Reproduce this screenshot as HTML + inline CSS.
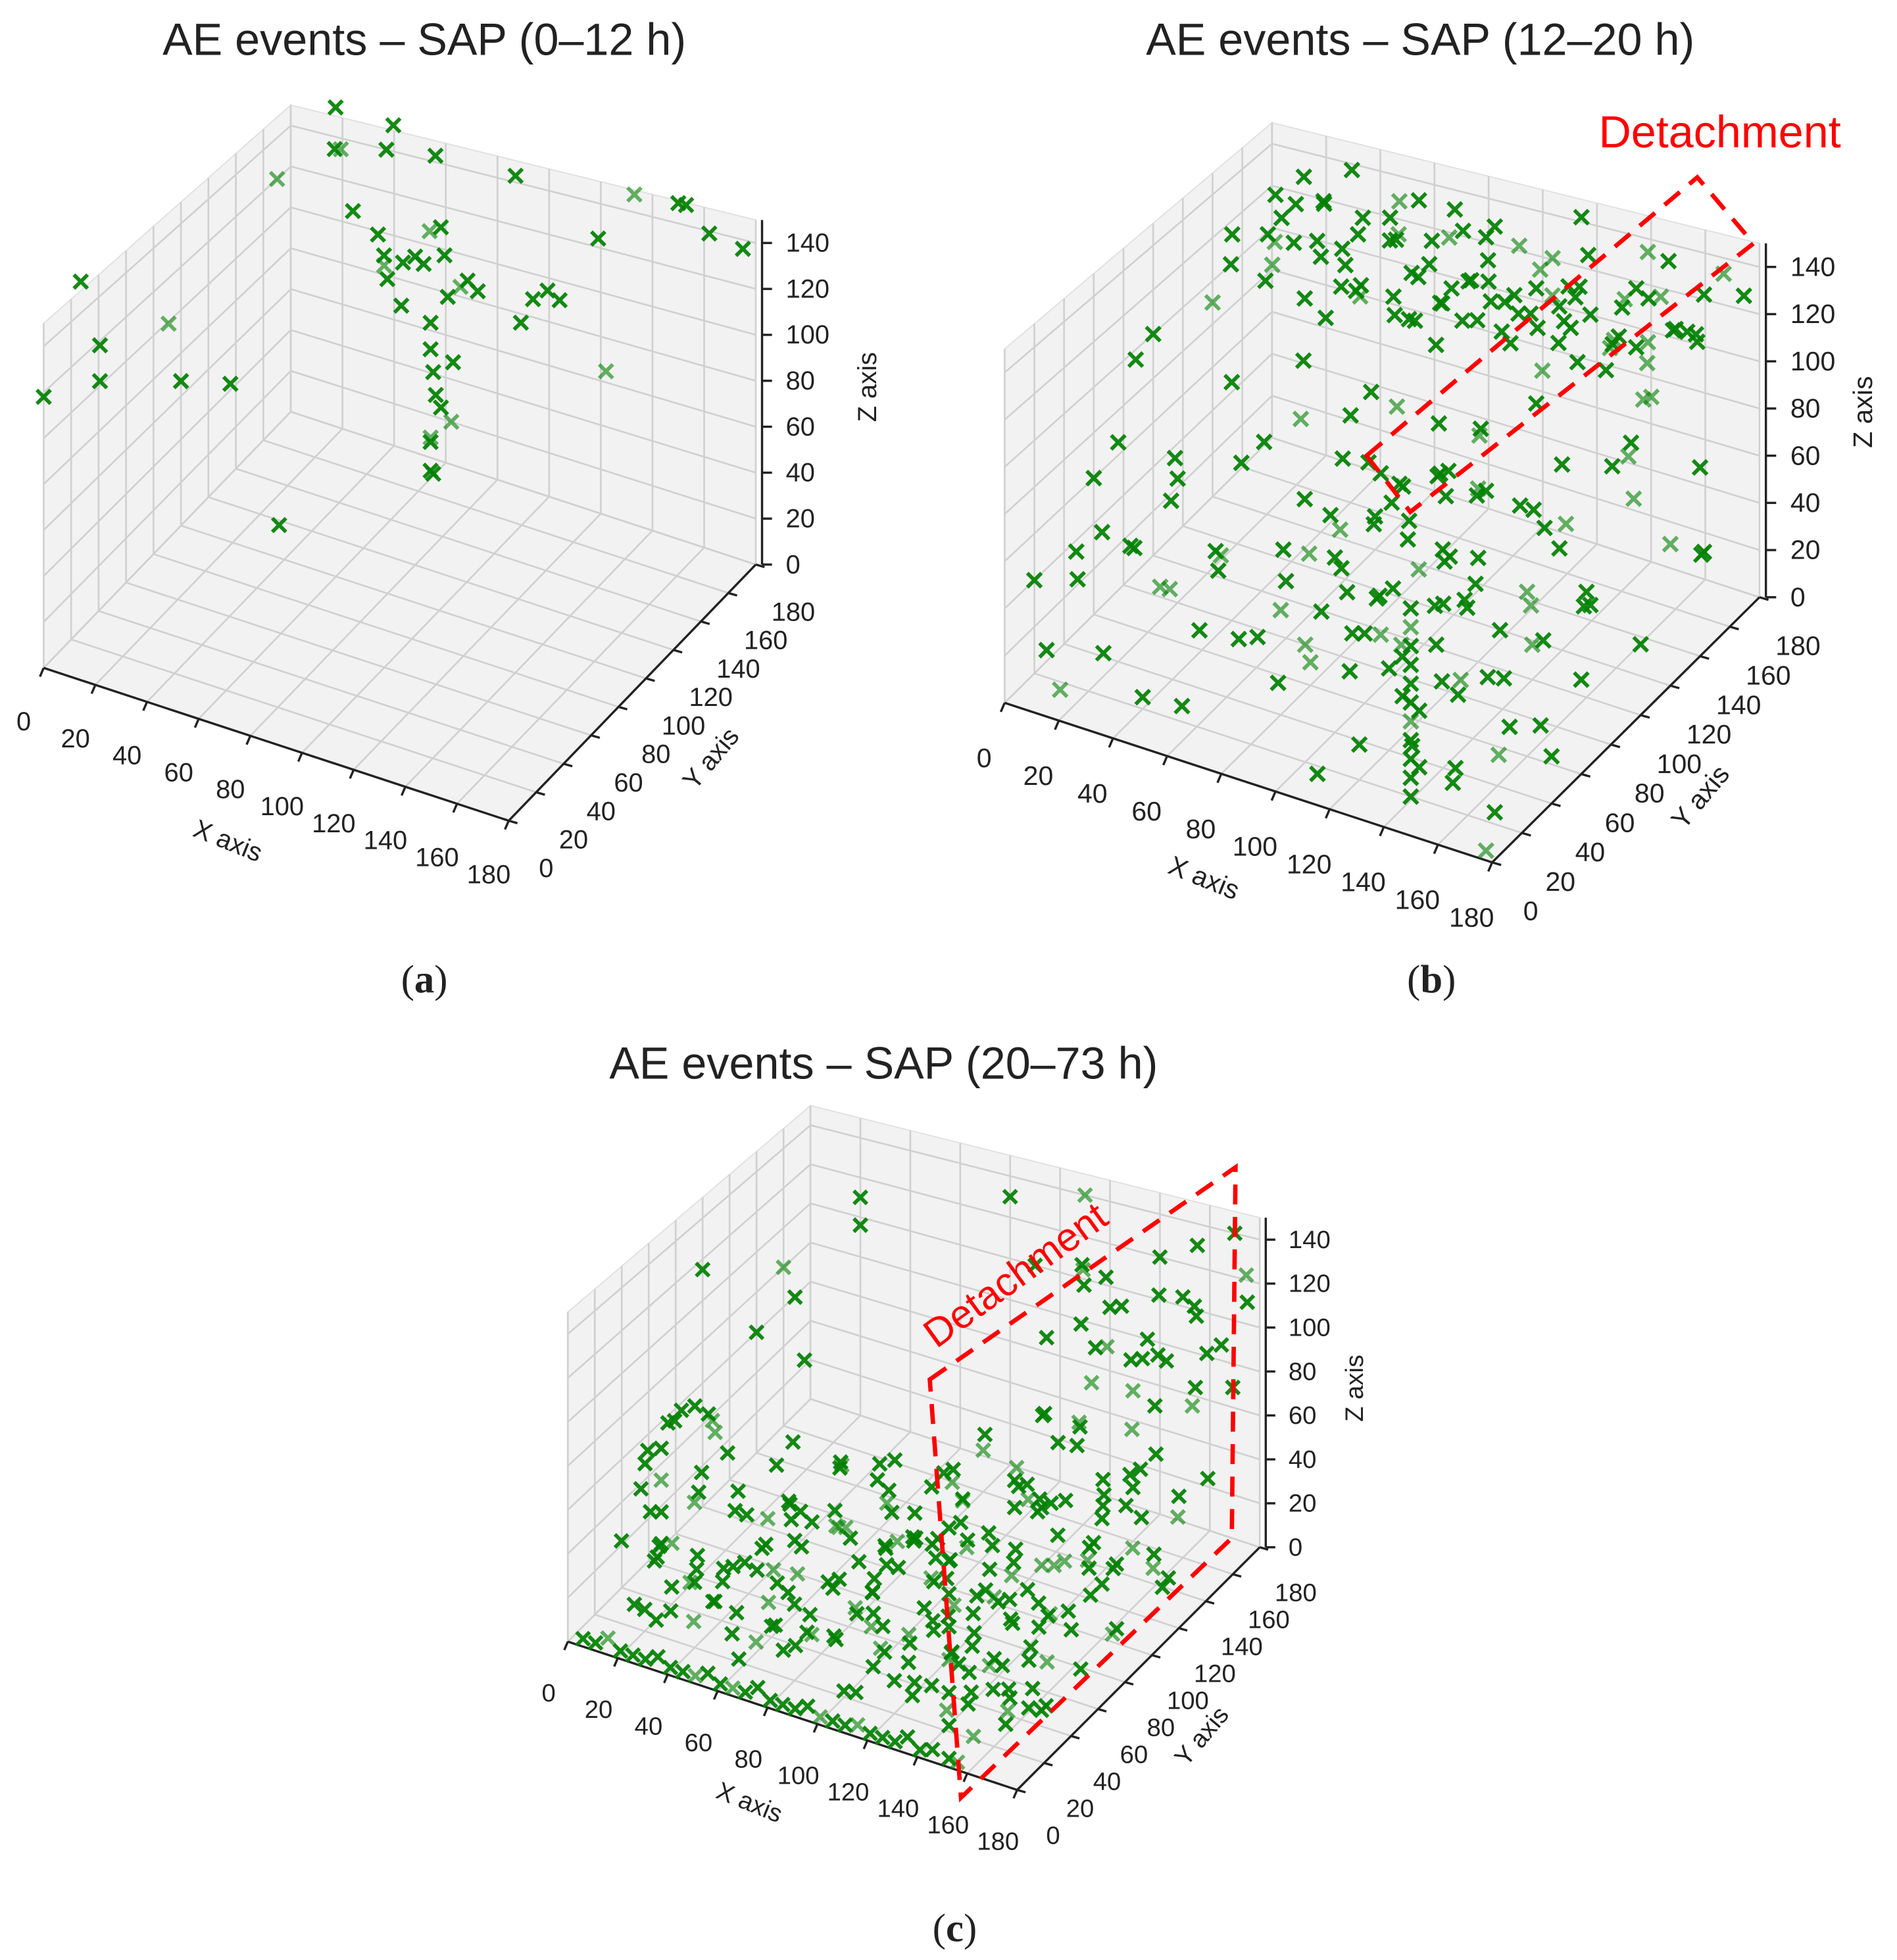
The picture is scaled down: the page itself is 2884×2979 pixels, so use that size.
<!DOCTYPE html>
<html><head><meta charset="utf-8"><style>
html,body{margin:0;padding:0;background:#fff}
svg{display:block}
text{font-family:"Liberation Sans",sans-serif;fill:#222}
</style></head><body>
<svg id="fig" width="2884" height="2979" viewBox="0 0 1520 1570" xmlns="http://www.w3.org/2000/svg">
<rect width="1520" height="1570" fill="#fff"/>
<text x="340" y="44" font-size="36" text-anchor="middle">AE events – SAP (0–12 h)</text>
<text x="1138" y="44" font-size="36" text-anchor="middle">AE events – SAP (12–20 h)</text>
<text x="708" y="864" font-size="36" text-anchor="middle">AE events – SAP (20–73 h)</text>
<text x="340" y="795" font-size="32" text-anchor="middle" style="font-family:'Liberation Serif',serif">(<tspan font-weight="bold">a</tspan>)</text>
<text x="1147" y="795" font-size="32" text-anchor="middle" style="font-family:'Liberation Serif',serif">(<tspan font-weight="bold">b</tspan>)</text>
<text x="765" y="1555" font-size="32" text-anchor="middle" style="font-family:'Liberation Serif',serif">(<tspan font-weight="bold">c</tspan>)</text>
<g id="pa"></g>
<g id="pb"></g>
<g id="pc"></g>
<g>
<polygon points="1095,365 1360,142 1405,195 1130,410" fill="none" stroke="#ff0000" stroke-width="3.5" stroke-dasharray="16,10"/>
<text x="1378" y="118" font-size="36" text-anchor="middle" style="fill:#ff0000">Detachment</text>
</g>
<g>
<polygon points="745,1105 990,935 987,1232 770,1440" fill="none" stroke="#ff0000" stroke-width="3.5" stroke-dasharray="16,10"/>
<text x="820" y="1030" font-size="32" text-anchor="middle" transform="rotate(-36 820 1030)" style="fill:#ff0000">Detachment</text>
</g>
</svg>
<script>
const xTicks=[0,20,40,60,80,100,120,140,160,180];
const yTicks=[0,20,40,60,80,100,120,140,160,180];
const zTicks=[0,20,40,60,80,100,120,140];
const eventsA=[[78,130,130],[70,130,128],[85,132,135],[90,125,122],[75,140,138],[65,128,120],[80,120,140],[95,130,128],[60,135,125],[88,138,118],[72,125,112],[100,128,126],[55,140,130],[82,135,145],[68,120,132],[86,120,112],[86,120,100],[87,120,90],[88,120,80],[86,120,60],[86,120,58],[86,120,45],[87,120,44],[90,120,75],[94,120,70],[0,0,118],[0,41,118],[0,41,102],[0,27,154],[0,91,99],[0,100,67],[0,136,43],[38,100,15],[119,180,124],[133,180,148],[150,180,149],[153,180,149],[162,180,139],[175,180,136],[122,180,65],[87,180,143],[56,180,143],[37,180,140],[17,180,134],[0,170,120],[110,160,110],[105,150,100],[120,150,115],[40,150,130],[30,160,150],[45,170,160],[20,175,158],[115,140,120],[100,110,105]];
const eventsB=[[20,150,130],[30,160,135],[40,140,125],[50,150,140],[60,130,120],[70,160,130],[80,140,135],[90,150,125],[100,130,140],[110,160,130],[120,140,120],[130,150,135],[140,170,125],[150,160,130],[160,150,140],[170,140,135],[25,130,115],[35,170,145],[45,120,120],[55,165,125],[65,145,138],[75,125,128],[85,175,132],[95,135,118],[105,155,142],[115,125,126],[125,165,138],[135,135,128],[145,145,118],[155,125,132],[165,170,130],[30,140,128],[60,150,133],[90,160,138],[120,150,128],[150,140,126],[40,165,120],[70,135,112],[100,145,122],[130,125,114],[160,160,120],[50,125,110],[80,155,115],[110,140,110],[140,155,112],[20,165,140],[95,120,135],[125,130,145],[145,130,140],[175,165,145],[15,125,122],[60,120,140],[88,130,108],[115,170,118],[170,120,118],
[139,20,0],[139,20,8],[139,20,16],[139,20,24],[139,20,32],[139,20,40],[139,20,48],[139,20,56],[139,20,64],[139,20,72],[139,20,80],[141,22,12],[141,22,36],[137,18,60],
[90,100,100],[100,110,90],[85,90,80],[95,95,70],[110,120,85],[120,100,75],[75,110,95],[105,80,60],[115,90,50],[130,110,65],[80,80,55],[70,100,70],[95,120,60],[125,130,95],[140,120,80],[60,90,90],[50,110,100],[40,80,105],[150,100,60],[160,130,90],[170,110,100],[30,60,80],[20,40,95],[10,70,110],[0,100,100],[0,140,90],[0,60,60],[25,20,70],[45,30,85],[60,50,95],[160,60,70],[175,90,110],[180,60,40],[170,30,35],[180,140,80],[180,120,60],[110,60,90],[100,40,75],
[10,10,20],[20,30,10],[30,50,30],[40,20,5],[50,40,25],[60,10,15],[70,30,35],[80,60,10],[90,20,30],[100,50,20],[110,10,5],[120,40,35],[130,70,15],[140,50,25],[150,30,10],[160,10,20],[170,20,5],[175,5,0],[15,60,35],[35,80,20],[55,70,5],[75,90,30],[95,80,15],[115,100,25],[135,90,5],[155,80,35],[165,60,15],[25,100,10],[45,120,30],[65,130,20],[85,140,10],[105,120,5],[125,150,30],[145,130,15],[5,40,30],[0,20,40],[45,60,45],[80,40,45],[100,70,40],[60,110,35],[120,20,15],[145,10,30],[155,50,5]];
const eventsB2=[[10,135,128],[15,155,136],[22,175,122],[28,145,142],[33,120,131],[38,158,117],[43,132,138],[48,172,126],[53,140,114],[58,160,144],[63,125,129],[68,150,121],[73,170,139],[78,130,116],[83,148,143],[88,165,124],[93,125,131],[98,158,113],[103,138,136],[108,172,127],[113,148,119],[118,128,141],[123,160,122],[128,140,132],[133,175,115],[138,125,138],[143,155,127],[148,135,114],[153,168,142],[158,145,123],[163,128,133],[168,160,117],[173,150,128],[178,135,140],[12,160,110],[42,150,106],[72,145,104],[102,160,108],[132,145,106],[162,140,104],[27,128,138],[57,175,135],[87,150,146],[117,175,146],[147,165,146],[177,175,130],[65,160,112],[95,145,112],[125,145,112],[155,150,110],
[100,60,30],[105,70,45],[110,50,55],[115,80,35],[120,60,65],[125,40,25],[130,80,50],[135,50,80],[140,70,20],[145,90,40],[95,40,50],[100,90,60],[110,30,70],[120,100,45],[130,30,55],[140,40,70],[150,60,50],[90,70,20],[105,100,75],[115,110,90],[125,90,80],[135,110,65],[145,30,45],[150,90,75],[85,50,65],[95,80,85],[120,80,95],[130,60,100],[110,90,10],[140,100,15],
[10,30,50],[20,80,55],[30,120,50],[40,160,40],[50,20,55],[60,140,15],[70,60,55],[80,120,50],[90,160,25],[100,20,50],[160,100,45],[170,80,55],[175,150,35],[165,170,20],[150,150,50],[180,100,30],[180,40,20],[60,80,25],[30,30,60],[15,10,5]];
const eventsC=[[10,2,2],[20,2,2],[30,2,2],[40,2,2],[50,2,2],[60,2,2],[70,2,2],[80,2,2],[90,2,2],[100,2,2],[110,2,2],[120,2,2],[130,2,2],[140,2,2],[15,2,6],[35,2,5],[55,2,5],[75,2,6],[95,2,5],[115,2,4],[135,2,6],
[20,20,10],[30,40,20],[40,20,30],[50,60,15],[60,40,5],[70,80,25],[80,20,35],[90,60,10],[100,40,20],[110,80,30],[120,20,15],[130,60,25],[140,40,5],[150,80,20],[160,60,35],[170,40,10],[25,80,30],[35,100,15],[45,120,25],[55,100,40],[65,120,10],[75,140,20],[85,100,30],[95,120,5],[105,140,25],[115,100,15],[125,120,35],[135,140,10],[145,100,30],[155,120,20],[165,140,5],[30,10,15],[50,30,35],[70,10,20],[90,30,40],[110,50,10],[130,30,40],[150,20,30],[160,30,10],[170,10,20],[40,50,45],[60,70,35],[80,90,45],[100,100,50],[120,90,40],[140,110,50],[20,60,40],[45,90,5],[75,60,45],[95,80,35],[115,60,45],[135,80,10],[155,100,40],[165,80,50],[105,20,40],[125,40,50],[85,40,10],[65,20,45],[45,10,20],[15,40,25],[10,100,30],[20,130,20],[50,150,10],[80,160,20],[110,160,35],[140,160,25],[170,160,40],[170,120,30],[175,80,20],[160,20,40],
[25,30,5],[35,50,10],[55,20,12],[65,50,25],[75,30,8],[85,70,18],[95,50,28],[105,70,12],[115,40,22],[125,70,8],[135,50,18],[145,60,28],[155,40,12],[165,50,22],[100,60,35],[110,30,30],[120,60,20],[130,90,30],[140,70,40],[150,50,45],[90,90,25],[80,110,10],[70,100,40],[60,90,20],[50,80,30],[40,70,15],[30,60,8],[120,110,20],[130,120,10],[140,90,15],[150,110,10],[160,100,25],[95,40,48],[105,50,55],[115,80,60],[125,60,65],[135,100,55],[145,80,65],[90,70,55],[80,50,60],
[150,5,0],[150,5,15],[150,5,30],[150,5,45],[150,5,60],[150,5,75],[150,5,90],[150,5,105],[148,7,20],[152,3,50],[148,7,80],
[5,60,10],[5,60,25],[5,60,40],[5,60,55],[5,70,62],[5,85,60],[5,95,50],[5,100,38],[5,90,25],[5,50,60],[5,45,45],
[130,100,60],[140,120,80],[150,140,100],[160,160,120],[170,180,140],[120,130,70],[135,150,95],[145,170,110],[155,110,65],[165,130,90],[175,150,105],[180,170,130],[125,160,85],[140,180,120],[160,100,55],[170,110,75],[180,130,95],[130,170,100],[150,120,50],[175,180,110],[165,160,80],[145,150,60],[155,180,130],[120,180,90],[180,120,60],[110,150,55],[125,110,45],[135,130,70],[100,170,75],[90,180,100],[80,180,130],[110,180,140],
[0,100,115],[20,180,96],[20,180,110],[0,140,60],[0,160,80],[30,120,70],[10,150,75]];
const eventsC2=[[62,12,8],[68,28,16],[74,44,4],[82,8,22],[88,36,12],[94,52,26],[102,16,6],[108,32,18],[112,64,8],[118,8,28],[124,26,6],[128,48,14],[132,72,26],[136,18,20],[142,34,4],[146,52,12],[152,68,22],[156,12,8],[162,28,18],[166,44,4],[172,62,14],[176,16,26],[98,88,12],[104,104,22],[112,96,4],[122,84,18],[128,104,8],[138,96,28],[144,120,14],[152,92,6],[158,112,24],[168,96,10],[174,112,30],[86,76,30],[92,100,18],[78,92,8],[72,68,14],[66,84,26],[58,56,10],[52,72,22],[46,40,6],[42,88,18],[36,24,26],[32,72,4],[26,48,20],[22,92,10],[18,16,14],[14,68,28],[28,112,6],[38,132,16],[58,124,28],[68,144,8],[88,130,18],[98,150,6],[118,140,22],[128,160,12],[148,140,32],[158,160,18],[168,130,8],[110,10,12],[115,22,25],[120,35,5],[125,55,30],[130,12,32],[135,40,16],[140,60,34],[145,75,6],[150,35,24],[155,55,16],[160,75,28],[165,10,34],[170,30,24],[100,28,36],[95,60,42],[105,80,38],[85,20,24],[80,45,30],[75,10,40],[70,50,8],[65,35,30],[55,45,38],[50,15,28],[45,65,34],[40,35,12],[35,90,40],[25,20,36],[20,40,8],[12,55,16],[8,25,34],[145,95,45],[135,65,55],[125,100,60],[115,120,50],[105,115,65],[95,110,48],[155,130,55],[165,120,45],[175,95,50],[160,140,60],
[5,2,2],[25,2,2],[45,2,2],[65,2,2],[85,2,2],[105,2,2],[125,2,2],[145,2,4],[155,2,2],
[150,160,90],[160,170,105],[170,150,125],[130,140,110],[120,160,120],[140,140,135],[160,130,110],[170,170,95],[150,100,85],[140,160,70],[180,160,85],[175,120,120],[135,180,80],[115,170,105],[145,120,100],[125,150,130],
[5,55,5],[5,75,64],[5,65,64],[5,98,45],[5,48,55],[5,52,30]];

const NS='http://www.w3.org/2000/svg';
function mk(parent,tag,attrs){const e=document.createElementNS(NS,tag);for(const k in attrs)e.setAttribute(k,attrs[k]);parent.appendChild(e);return e;}
function drawPanel(id,O,ex,ey,ez,s,events,lbl){
  const g=document.getElementById(id);
  const zmax=150,M=180;
  const P=(x,y,z)=>{const f=1-0.11*(y/M)*(1-x/M);return [O[0]+x*ex[0]+y*ey[0]+z*ez[0]*f,O[1]+x*ex[1]+y*ey[1]+z*ez[1]*f];};
  const pts=a=>a.map(p=>p.join(',')).join(' ');
  const panes=[[P(0,0,0),P(M,0,0),P(M,M,0),P(0,M,0)],[P(0,0,0),P(0,M,0),P(0,M,zmax),P(0,0,zmax)],[P(0,M,0),P(M,M,0),P(M,M,zmax),P(0,M,zmax)]];
  const paneNames=['floor-pane','left-wall-pane','back-wall-pane'];
  panes.forEach((pp,i)=>{const e=mk(g,'polygon',{points:pts(pp),fill:'#f2f2f2',stroke:'#e0e0e0','stroke-width':1});
    
    });
  const grid=mk(g,'g',{stroke:'#d0d0d0','stroke-width':1.4,fill:'none'});
  
  
  const line=(a,b,par,attrs)=>mk(par,'line',Object.assign({x1:a[0],y1:a[1],x2:b[0],y2:b[1]},attrs||{}));
  xTicks.forEach(x=>{line(P(x,0,0),P(x,M,0),grid);line(P(x,M,0),P(x,M,zmax),grid);});
  yTicks.forEach(y=>{line(P(0,y,0),P(M,y,0),grid);line(P(0,y,0),P(0,y,zmax),grid);});
  zTicks.forEach(z=>{line(P(0,0,z),P(0,M,z),grid);line(P(0,M,z),P(M,M,z),grid);});
  const ax=mk(g,'g',{stroke:'#222','stroke-width':1.8});
  
  
  line(P(0,0,0),P(M,0,0),ax);line(P(M,0,0),P(M,M,0),ax);
  const zo=[5*s,0];
  const za=P(M,M,0),zb=P(M,M,zmax);
  line([za[0]+zo[0],za[1]],[zb[0]+zo[0],zb[1]],ax);
  const fs=21*s;
  xTicks.forEach(x=>{const p=P(x,0,0);line(p,[p[0]-3*s,p[1]+7*s],ax);
    const t=mk(g,'text',{x:p[0]-16*s,y:p[1]+50*s,'font-size':fs,'text-anchor':'middle'});t.textContent=x;
    
    });
  yTicks.forEach(y=>{const p=P(M,y,0);line(p,[p[0]+7*s,p[1]+2*s],ax);
    const t=mk(g,'text',{x:p[0]+30*s,y:p[1]+45*s,'font-size':fs,'text-anchor':'middle'});t.textContent=y;
    
    });
  zTicks.forEach(z=>{const p=P(M,M,z);line([p[0]+zo[0],p[1]],[p[0]+zo[0]+8*s,p[1]],ax);
    const t=mk(g,'text',{x:p[0]+24*s,y:p[1]+7*s,'font-size':fs,'text-anchor':'start'});t.textContent=z;
    
    });
  const labs=[['X axis',lbl[0],22,'x-axis-title'],['Y axis',lbl[1],-50,'y-axis-title'],['Z axis',lbl[2],-90,'z-axis-title']];
  labs.forEach(L=>{const t=mk(g,'text',{x:L[1][0],y:L[1][1],'font-size':fs,'text-anchor':'middle',transform:`rotate(${L[2]} ${L[1][0]} ${L[1][1]})`});t.textContent=L[0];
    
    });
  const mg=mk(g,'g',{stroke:'#008000','stroke-width':3,fill:'none'});
  
  
  const r=5.5*s;
  events.forEach((ev,i)=>{const p=P(ev[0],ev[1],ev[2]);
    const m=mk(mg,'path',{d:`M${p[0]-r},${p[1]-r}L${p[0]+r},${p[1]+r}M${p[0]-r},${p[1]+r}L${p[0]+r},${p[1]-r}`,opacity:(i%5===4?0.6:0.92)});
    
    });
}
drawPanel('pa',[35,535],[2.07,0.68],[1.10,-1.14],[0,-1.84],1,eventsA,[[180,680],[575,612],[702,310]]);
drawPanel('pb',[805,563],[2.17,0.71],[1.19,-1.18],[0,-1.89],1.03,eventsB.concat(eventsB2),[[962,710],[1368,643],[1500,330]]);
drawPanel('pc',[455,1315],[2.0,0.66],[1.08,-1.08],[0,-1.76],0.96,eventsC.concat(eventsC2),[[598,1450],[968,1395],[1092,1112]]);
</script>
</body></html>
